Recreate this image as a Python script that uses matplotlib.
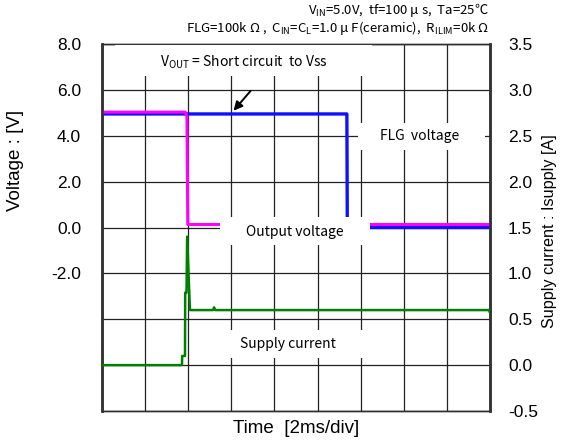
import matplotlib
matplotlib.use("Agg")
import matplotlib.pyplot as plt
from matplotlib.patches import Rectangle

plt.rcParams['mathtext.fontset'] = 'custom'
plt.rcParams['mathtext.rm'] = 'Noto Sans CJK JP'
plt.rcParams['mathtext.it'] = 'Noto Sans CJK JP'
plt.rcParams['mathtext.bf'] = 'Noto Sans CJK JP'

# Data (time in ms, 2 ms/div)
out_t = [0.0, 3.86, 3.94, 3.98, 18.0]
out_v = [5.03, 5.03, 4.85, 0.13, 0.13]

flg_t = [0.0, 11.36, 11.38, 18.0]
flg_v = [4.95, 4.95, 0.0, 0.0]

cur_t = [0.0, 3.71, 3.72, 3.85, 3.86, 3.92, 3.95, 4.08, 5.15, 5.2, 5.25, 17.95, 18.0]
cur_a = [0.0, 0.0, 0.10, 0.10, 0.79, 0.79, 1.40, 0.60, 0.60, 0.63, 0.60, 0.60, 0.57]

v_ticks = [8, 6, 4, 2, 0, -2, -4, -6, -8]
v_labels = ['8.0', '6.0', '4.0', '2.0', '0.0', '-2.0', '', '', '']
i_ticks = [3.5, 3.0, 2.5, 2.0, 1.5, 1.0, 0.5, 0.0, -0.5]
i_labels = ['3.5', '3.0', '2.5', '2.0', '1.5', '1.0', '0.5', '0.0', '-0.5']
x_ticks = [0, 2, 4, 6, 8, 10, 12, 14, 16, 18]

W, H = 563, 441
L, R, T, B = 102, 490, 44, 411

fig = plt.figure(figsize=(W/100, H/100), dpi=100)
ax = fig.add_axes([L/W, 1-B/H, (R-L)/W, (B-T)/H])
ax2 = ax.twinx()

ax.set_xlim(0, 18)
ax.set_ylim(-8, 8)
ax2.set_ylim(-0.5, 3.5)
ax.set_xticks(x_ticks)
ax.set_xticklabels([])
ax.set_yticks(v_ticks)
ax.set_yticklabels(v_labels, fontsize=12.5, family='Liberation Sans')
ax2.set_yticks(i_ticks)
ax2.set_yticklabels(i_labels, fontsize=12.5, family='Liberation Sans')
ax.tick_params(axis='both', length=0)
ax.tick_params(axis='y', pad=15)
ax2.tick_params(axis='y', length=0, pad=13)

ax.grid(True, color='#222222', lw=0.9)
ax.set_axisbelow(True)
for a in (ax, ax2):
    for s in a.spines.values():
        s.set_color('#333333')
        s.set_linewidth(1.0)
    a.spines['left'].set_linewidth(1.8)
    a.spines['right'].set_linewidth(1.8)

ax.set_ylabel('Voltage : [V]', fontsize=13.5, family='Liberation Sans')
ax.yaxis.set_label_coords((24 - L)/(R-L), (B - 160)/(B-T))
ax2.set_ylabel('Supply current : Isupply [A]', fontsize=11.6, family='Liberation Sans')
ax2.yaxis.set_label_coords((542 - L)/(R-L), (B - 231)/(B-T))
ax.set_xlabel('Time  [2ms/div]', fontsize=13.5, family='Liberation Sans', labelpad=3)

ax.plot(flg_t, flg_v, color='#1010ff', lw=2.4, zorder=3)
ax.plot(out_t, out_v, color='#ff00ff', lw=2.2, zorder=4)
ax2.plot(cur_t, cur_a, color='#008000', lw=1.8, zorder=3)

ax2.set_zorder(ax.get_zorder() + 1)
ax2.patch.set_visible(False)

def pbox(x0, y0, x1, y1):
    # white label background given in figure pixels
    ax2.add_patch(Rectangle(((x0-L)/(R-L), (B-y1)/(B-T)), (x1-x0)/(R-L), (y1-y0)/(B-T),
                            transform=ax2.transAxes, facecolor='white', edgecolor='none', zorder=9))

def ptext(x, y, s, **kw):
    ax2.text((x-L)/(R-L), (B-y)/(B-T), s, transform=ax2.transAxes, ha='center', va='center',
             family='Noto Sans CJK JP', zorder=10, **kw)

tf = 'Noto Sans CJK JP'
pbox(115, 45, 372, 76)
ptext(244, 62, r'V$_{\mathrm{OUT}}$ = Short circuit  to Vss', fontsize=10)
pbox(358, 123, 485, 150)
ptext(420, 136, 'FLG  voltage', fontsize=10)
pbox(220, 217, 370, 245)
ptext(295, 232, 'Output voltage', fontsize=10)
pbox(205, 330, 370, 358)
ptext(288, 344, 'Supply current', fontsize=10)

def v2f(t, v):
    return (t / 18, (v + 8) / 16)
ax2.annotate('', xy=v2f(6.02, 5.0), xytext=v2f(6.98, 6.05), xycoords='axes fraction',
             textcoords='axes fraction',
             arrowprops=dict(arrowstyle='-|>', color='black', lw=1.4, mutation_scale=13), zorder=11)

fig.text(489/W, 1-10/H, r'V$_{\mathrm{IN}}$=5.0V,  tf=100 μ s,  Ta=25℃', ha='right', va='center',
         fontsize=9.5, family=tf)
fig.text(489/W, 1-28/H, r'FLG=100k Ω ,  C$_{\mathrm{IN}}$=C$_{\mathrm{L}}$=1.0 μ F(ceramic),  R$_{\mathrm{ILIM}}$=0k Ω',
         ha='right', va='center', fontsize=9.5, family=tf)

fig.savefig('out.png', dpi=100)
